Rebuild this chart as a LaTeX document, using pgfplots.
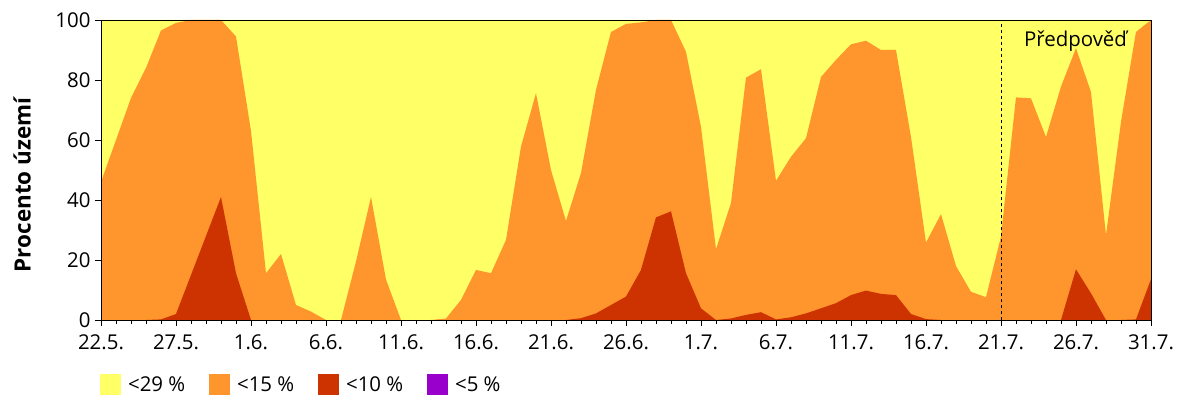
\documentclass[border=0pt]{standalone}
\usepackage{fontspec}
\setmainfont{Open Sans}
\usepackage{pgfplots}
\usepackage{pgfplotstable}
\pgfplotsset{compat=1.18}
\definecolor{cY}{HTML}{FFFF66}
\definecolor{cO}{HTML}{FF952D}
\definecolor{cR}{HTML}{CC3300}
\definecolor{cP}{HTML}{9900CC}

\pgfplotstableread{
d y o r p
0 100 46 0 0
1 100 60 0 0
2 100 74 0 0
3 100 84 0 0
4 100 96.5 0.2 0
5 100 99 2 0
6 100 100 15 0
7 100 100 28 0
8 100 100 41 0
9 100 94.5 15.6 0
10 100 63 0 0
11 100 15.6 0 0
12 100 22 0 0
13 100 5 0 0
14 100 2.8 0 0
15 100 0 0 0
16 100 0 0 0
17 100 19.5 0 0
18 100 41 0 0
19 100 13.5 0 0
20 100 0 0 0
21 100 0 0 0
22 100 0 0 0
23 100 0.5 0 0
24 100 6.7 0 0
25 100 16.7 0 0
26 100 15.6 0 0
27 100 26.7 0 0
28 100 57.8 0 0
29 100 75.6 0 0
30 100 50 0 0
31 100 33 0 0
32 100 49 0.6 0
33 100 76.7 2.2 0
34 100 96 5 0
35 100 98.7 7.8 0
36 100 99.2 16.7 0
37 100 100 34.2 0
38 100 100 36.2 0
39 100 89.4 15.6 0
40 100 64.4 3.9 0
41 100 23.6 0 0
42 100 39 0.5 0
43 100 80.8 1.7 0
44 100 83.6 2.6 0
45 100 46.4 0.2 0
46 100 54.4 0.9 0
47 100 60.6 2.2 0
48 100 81 3.9 0
49 100 86.7 5.6 0
50 100 91.9 8.3 0
51 100 93.1 9.8 0
52 100 90 8.7 0
53 100 90 8.3 0
54 100 61 2 0
55 100 25.8 0.3 0
56 100 35.3 0 0
57 100 18 0 0
58 100 9.4 0 0
59 100 7.6 0 0
60 100 27.8 0 0
61 100 74.2 0 0
62 100 73.9 0 0
63 100 61 0 0
64 100 77.8 0 0
65 100 90.6 16.9 0
66 100 76 8.9 0
67 100 28.3 0 0
68 100 66 0 0
69 100 96 0.2 0
70 100 100 13.6 0
}\data

\begin{document}
\begin{tikzpicture}
\path[use as bounding box] (0,0) rectangle (1200bp,400bp);
\begin{axis}[
  at={(101bp,80bp)}, anchor=south west,
  width=1050bp, height=300bp, scale only axis,
  xmin=0, xmax=70, ymin=0, ymax=100,
  xtick={0,5,...,70},
  xticklabels={22.5.,27.5.,1.6.,6.6.,11.6.,16.6.,21.6.,26.6.,1.7.,6.7.,11.7.,16.7.,21.7.,26.7.,31.7.},
  minor x tick num=4,
  ytick={0,20,...,100},
  tick align=outside,
  tick pos=left,
  major tick length=6bp, minor tick length=4bp,
  every tick/.style={black, line width=0.8bp},
  ticklabel style={font=\fontsize{20.5}{22}\selectfont},
  yticklabel style={xshift=-1bp},
  xticklabel style={yshift=-5bp},
  /pgf/number format/assume math mode=true,
  ylabel={Procento území},
  ylabel style={font=\fontsize{22.5}{24}\selectfont\bfseries, at={(axis description cs:-0.0752,0.45)}, anchor=center},
  axis line style={line width=0.8bp},
  axis on top,
  legend columns=4,
  legend style={at={(axis description cs:-0.001,-0.215)}, anchor=west, draw=none, fill=none, inner sep=0pt,
    font=\fontsize{20.5}{22}\selectfont,
    /tikz/every odd column/.append style={column sep=5bp}},
  legend image code/.code={\fill[#1] (0bp,-10.5bp) rectangle (21bp,10.5bp);},
]
\addplot[fill=cY, draw=none] table[x=d, y=y] {\data} \closedcycle;
\addlegendentry{\makebox[79bp][l]{<29 \%}}
\addplot[fill=cO, draw=none] table[x=d, y=o] {\data} \closedcycle;
\addlegendentry{\makebox[79bp][l]{<15 \%}}
\addplot[fill=cR, draw=none] table[x=d, y=r] {\data} \closedcycle;
\addlegendentry{\makebox[79bp][l]{<10 \%}}
\addplot[fill=cP, draw=none] table[x=d, y=p] {\data} \closedcycle;
\addlegendentry{\makebox[79bp][l]{<5 \%}}
\addplot[black, dashed, line width=0.8bp, forget plot] coordinates {(60,0) (60,100)};
\node[font=\fontsize{20.5}{22}\selectfont, anchor=base] at (axis cs:64.97,91.3) {Předpověď};
\end{axis}
\end{tikzpicture}
\end{document}
